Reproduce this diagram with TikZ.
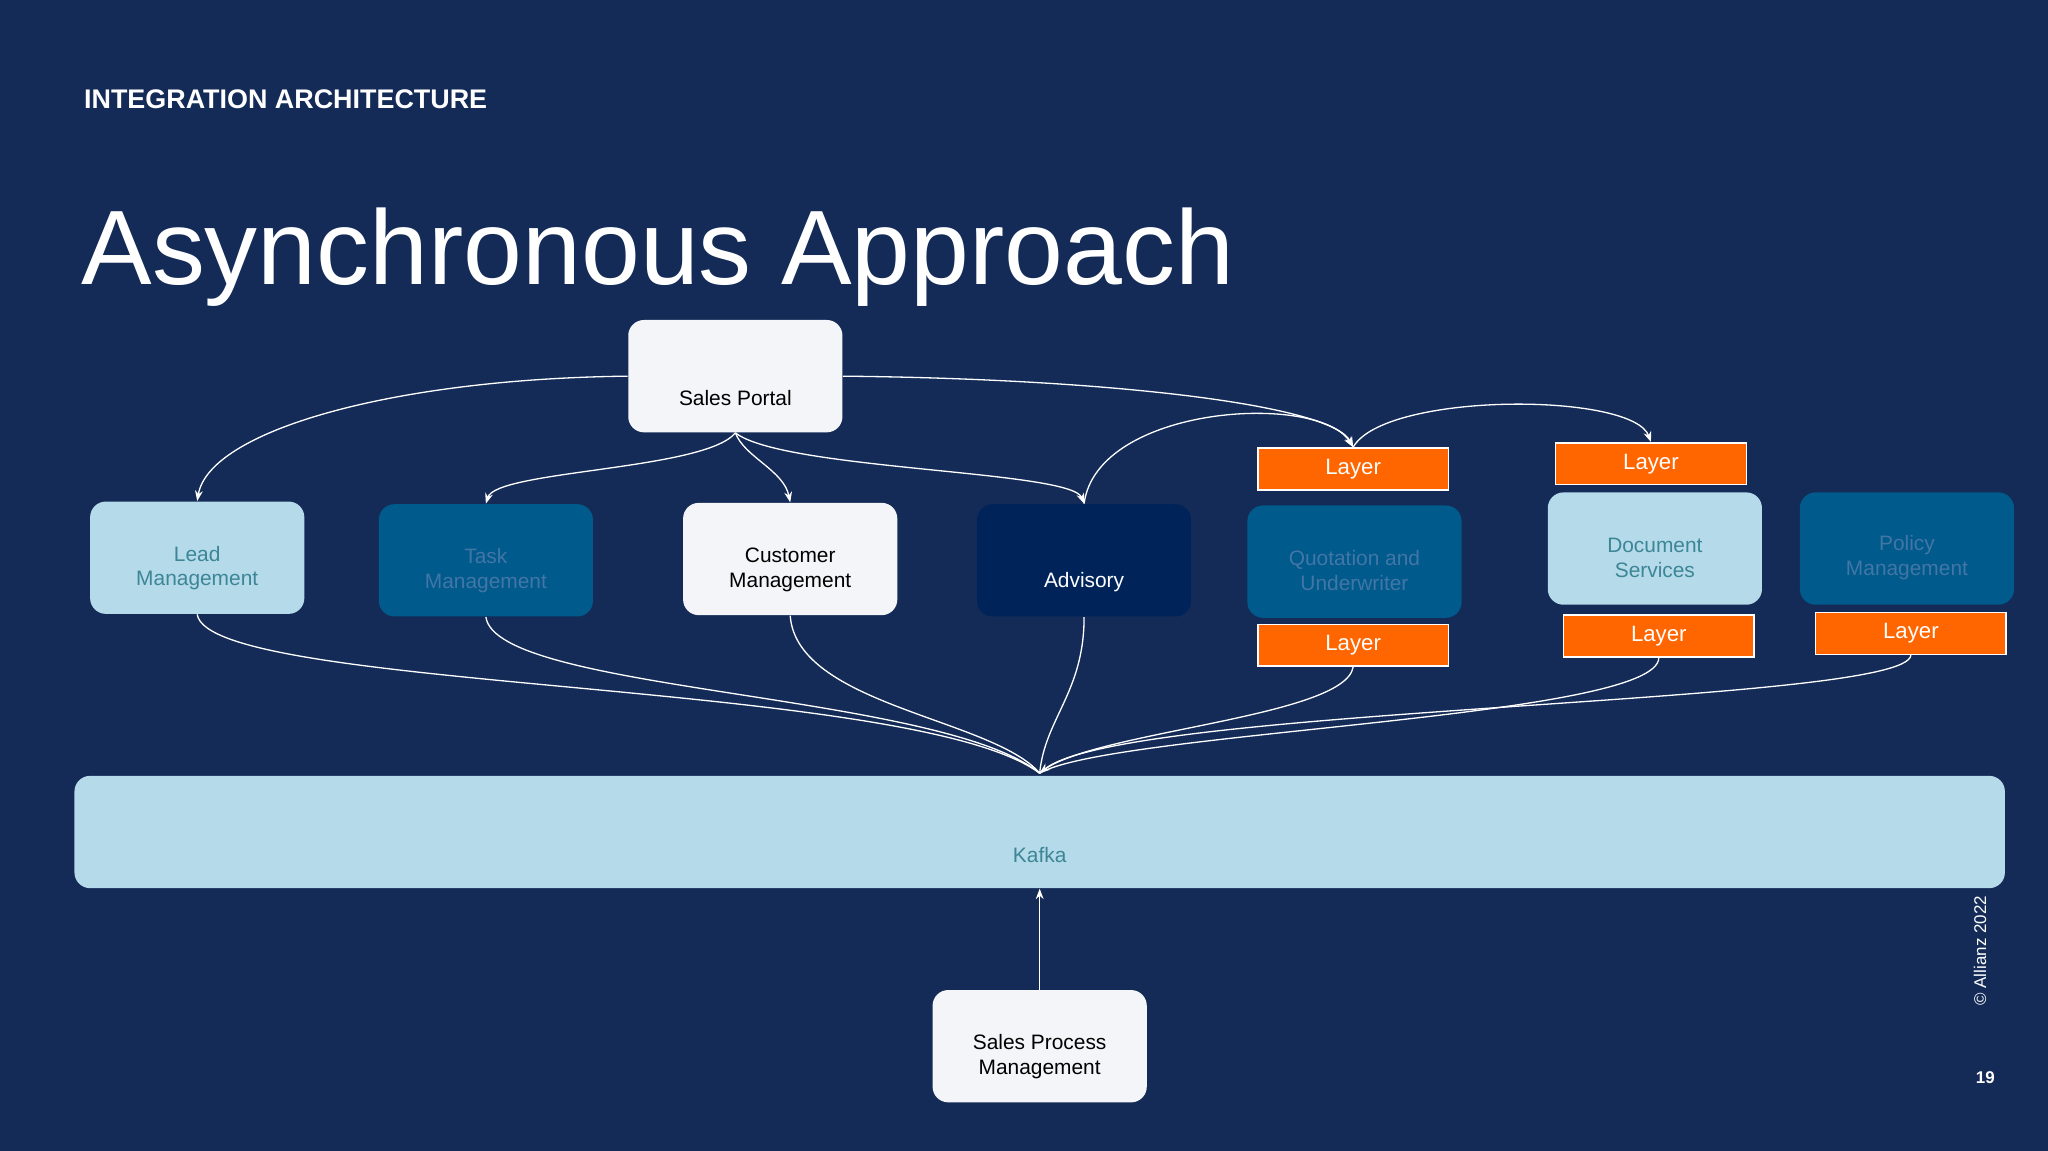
\documentclass[tikz,border=0pt]{standalone}
\usepackage{fontspec}
\setmainfont{Liberation Sans}
\usetikzlibrary{arrows.meta}
\definecolor{bg}{HTML}{142B57}
\definecolor{lb}{HTML}{B5DAEA}
\definecolor{lbt}{HTML}{3C8696}
\definecolor{mb}{HTML}{005A8C}
\definecolor{mbt}{HTML}{4276A6}
\definecolor{db}{HTML}{00245A}
\definecolor{og}{HTML}{FF6600}
\definecolor{wb}{HTML}{F4F5F8}
\begin{document}
\begin{tikzpicture}[x=0.5pt,y=-0.5pt,
 box/.style={rounded corners=6pt,minimum width=82pt,minimum height=43pt,inner sep=0pt},
 txt/.style={align=center,font=\fontsize{8}{9.5}\selectfont,inner sep=0pt},
 layer/.style={draw=white,line width=0.6pt,fill=og,text=white,minimum width=73pt,minimum height=16pt,inner sep=0pt,font=\fontsize{8.5}{10}\selectfont},
 con/.style={draw=white,line width=0.5pt},
 arr/.style={con,-{Stealth[length=4pt,width=3pt]}}]
\fill[bg] (0,0) rectangle (1568,881);
\useasboundingbox (0,0) rectangle (1568,881);
\node[anchor=west,text=white,font=\bfseries\fontsize{10.3}{12}\selectfont,inner sep=0pt] (hd) at (64,76) {INTEGRATION ARCHITECTURE};
\node[anchor=west,text=white,font=\fontsize{40.5}{48}\selectfont,inner sep=0pt] (tt) at (62,197) {Asynchronous Approach};
\node[box,fill=wb] (sp) at (563,288) {};
\node[box,fill=lb] (lead) at (151,427) {};
\node[box,fill=mb] (task) at (372,429) {};
\node[box,fill=wb] (cust) at (605,428) {};
\node[box,fill=db] (adv) at (830,429) {};
\node[box,fill=mb] (quot) at (1037,430) {};
\node[box,fill=lb] (doc) at (1267,420) {};
\node[box,fill=mb] (pol) at (1460,420) {};
\node[box,fill=lb,minimum width=739pt] (kafka) at (796,637) {};
\node[box,fill=wb] (spm) at (796,801) {};
\node[txt,text=black] (tsp) at ([yshift=-8.5pt]sp.center) {Sales Portal};
\node[txt,text=lbt] (tlead) at ([yshift=-4pt]lead.center) {Lead\\Management};
\node[txt,text=mbt] (ttask) at ([yshift=-4pt]task.center) {Task\\Management};
\node[txt,text=black] (tcust) at ([yshift=-4pt]cust.center) {Customer\\Management};
\node[txt,text=white] (tadv) at ([yshift=-8.5pt]adv.center) {Advisory};
\node[txt,text=mbt] (tquot) at ([yshift=-3.5pt]quot.center) {Quotation and\\Underwriter};
\node[txt,text=lbt] (tdoc) at ([yshift=-3.5pt]doc.center) {Document\\Services};
\node[txt,text=mbt] (tpol) at ([yshift=-3.5pt]pol.center) {Policy\\Management};
\node[txt,text=lbt] (tk) at ([yshift=-9pt]kafka.center) {Kafka};
\node[txt,text=black] (tspm) at ([yshift=-4pt]spm.center) {Sales Process\\Management};
\node[layer] (lq1) at (1036,359) {Layer};
\node[layer] (lq2) at (1036,494) {Layer};
\node[layer] (ld1) at (1264,355) {Layer};
\node[layer] (ld2) at (1270,487) {Layer};
\node[layer] (lp2) at (1463,485) {Layer};
\node[rotate=90,text=white,font=\fontsize{6.5}{8}\selectfont] (cr) at (1516,728) {© Allianz 2022};
\node[text=white,font=\bfseries\fontsize{6.5}{8}\selectfont] (pg) at (1520,825) {19};
\coordinate (k) at (796,592);
% top connectors
\draw[arr] (sp.west) .. controls (300,290) and (160,330) .. (lead.north);
\draw[arr] (sp.south) .. controls (540,360) and (380,360) .. (task.north);
\draw[arr] (sp.south) .. controls (570,350) and (600,360) .. (cust.north);
\draw[arr] (sp.south) .. controls (600,360) and (820,360) .. (adv.north);
\draw[arr] (sp.east) .. controls (850,290) and (1020,310) .. (lq1.north);
\draw[arr] (adv.north) .. controls (840,310) and (1010,300) .. (lq1.north);
\draw[arr] (lq1.north) .. controls (1060,300) and (1250,300) .. (ld1.north);
% bottom connectors
\draw[con] (lead.south) .. controls (160,530) and (700,520) .. (k);
\draw[con] (task.south) .. controls (380,530) and (720,530) .. (k);
\draw[con] (cust.south) .. controls (610,540) and (760,550) .. (k);
\draw[con] (adv.south) .. controls (830,530) and (800,550) .. (k);
\draw[con] (lq2.south) .. controls (1030,550) and (830,560) .. (k);
\draw[con] (ld2.south) .. controls (1270,550) and (850,560) .. (k);
\draw[arr] (lp2.south) .. controls (1460,540) and (860,540) .. (k);
\draw[arr] (spm.north) -- (kafka.south);
\end{tikzpicture}
\end{document}
